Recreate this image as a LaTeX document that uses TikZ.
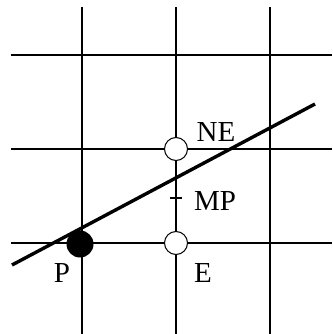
\documentclass[tikz,border=0pt]{standalone}
\usepackage{fontspec}
\setmainfont{Liberation Serif}
\begin{document}
\begin{tikzpicture}[x=1pt,y=-1pt,
  gridline/.style={line width=1.3pt,black},
  rasterline/.style={line width=3.4pt,black},
  openpt/.style={circle,draw,line width=1pt,fill=white,minimum size=23pt,inner sep=0pt},
  fullpt/.style={circle,fill=black,minimum size=27pt,inner sep=0pt},
  lbl/.style={font=\fontsize{29}{29}\selectfont,inner sep=0pt}]
\useasboundingbox (0,0) rectangle (332,334);
% grid
\foreach \x in {82,176,270} \draw[gridline] (\x,7) -- (\x,334);
\foreach \y in {55,149,243} \draw[gridline] (11,\y) -- (332,\y);
% line
\coordinate (L1) at (12,265);
\coordinate (L2) at (315,104);
\draw[rasterline] (L1) -- (L2);
% points
\node[fullpt] (P) at (80,244) {};
\node[openpt] (NE) at (176,149) {};
\node[openpt] (E) at (176,243) {};
\coordinate (MP) at (176,198);
\draw[line width=1.3pt] ([xshift=-6pt]MP) -- ([xshift=6pt]MP);
% labels
\node[lbl] (tNE) at (216,132) {NE};
\node[lbl] (tMP) at (215,201) {MP};
\node[lbl] (tE) at (203,273) {E};
\node[lbl] (tP) at (62,273) {P};
\end{tikzpicture}
\end{document}
